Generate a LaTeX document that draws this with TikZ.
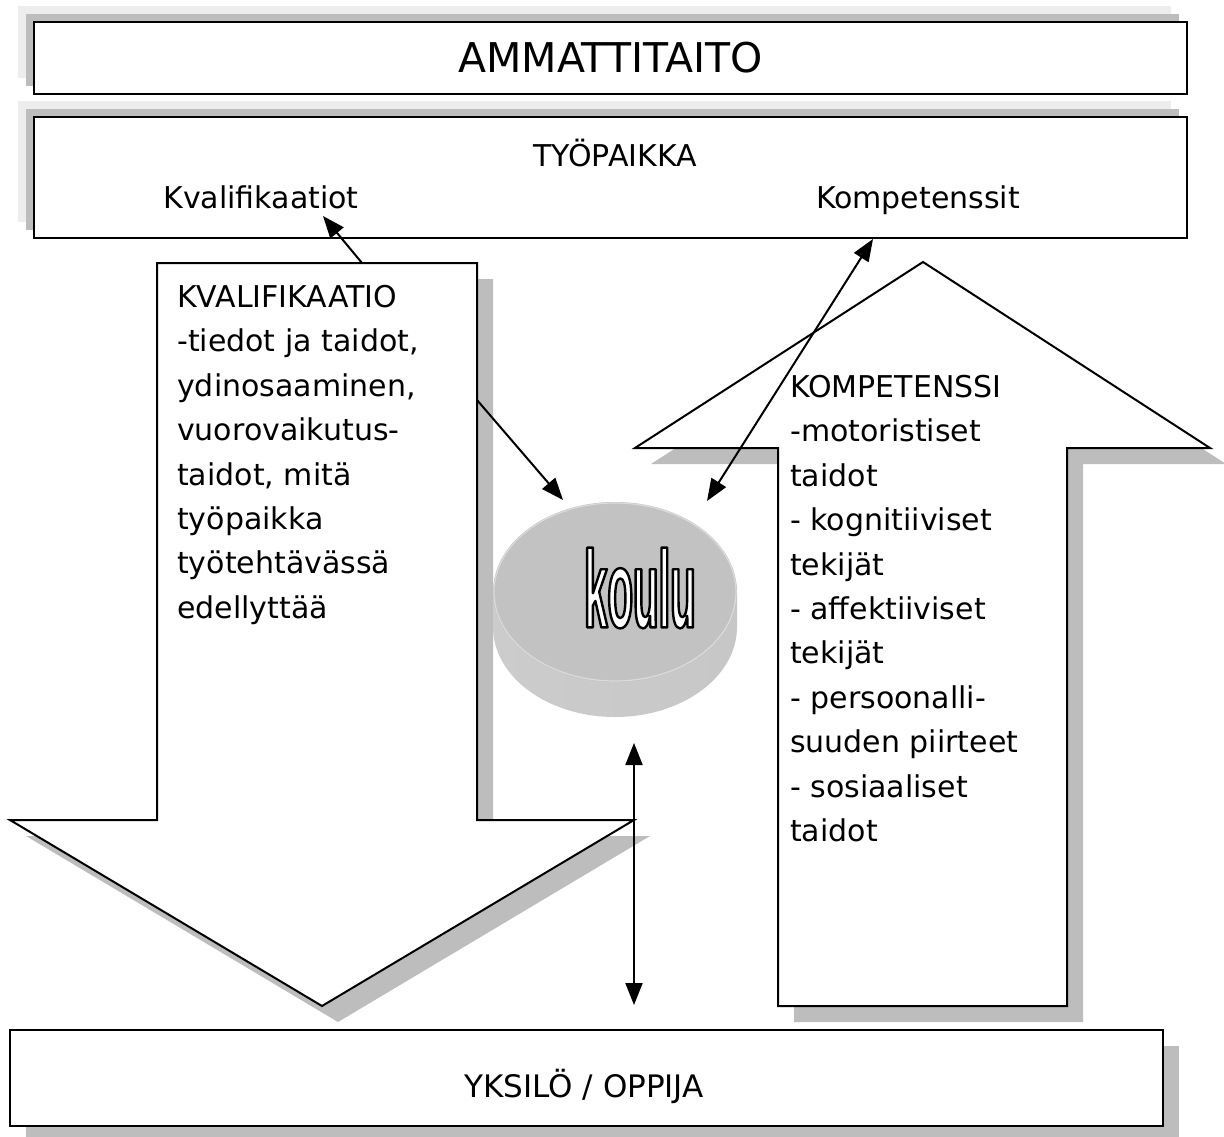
\documentclass[tikz,border=0pt]{standalone}
\usepackage{fontspec}
\setmainfont{DejaVu Sans}
\newfontfamily\kfont{Liberation Sans}[FakeStretch=0.38]
\usetikzlibrary{arrows.meta}
\begin{document}
\begin{tikzpicture}[x=1pt,y=-1pt,
  boxline/.style={draw=black,line width=2.6pt,fill=white,rectangle,inner sep=0pt},
  bigarrow/.style={draw=black,line width=2pt,fill=white,line join=miter},
  darkshadow/.style={fill=black!26},
  lightshadow/.style={fill=black!7},
  txt/.style={inner sep=0pt,font=\fontsize{30}{44.4}\selectfont},
  conn/.style={line width=2pt,-{Triangle[length=22pt,width=17pt]}},
  conntwo/.style={line width=2pt,{Triangle[length=22pt,width=17pt]}-{Triangle[length=22pt,width=17pt]}}]
\useasboundingbox (0,0) rectangle (1224,1137);
\fill[white] (0,0) rectangle (1224,1137);
% shadows of top boxes
\fill[lightshadow] (18,6) rectangle (1171,78);
\fill[darkshadow] (26,14) rectangle (1179,86);
\fill[lightshadow] (18,101) rectangle (1171,222);
\fill[darkshadow] (26,109) rectangle (1179,230);
% top boxes
\node[boxline,minimum width=1153pt,minimum height=72pt,font=\fontsize{41}{44}\selectfont] (amm) at (610.5,58) {AMMATTITAITO};
\node[boxline,minimum width=1153pt,minimum height=121pt] (tyo) at (610.5,177.5) {};
\node[txt,anchor=base] (tyot) at (615,167) {TYÖPAIKKA};
\node[txt,anchor=base] (kval) at (261,208) {Kvalifikaatiot};
\node[txt,anchor=base] (komp) at (918,208) {Kompetenssit};
% shadows of arrows and bottom box
\fill[darkshadow,shift={(16,16)}] (157,263) -- (477,263) -- (477,820) -- (634,820) -- (322,1006) -- (10,820) -- (157,820) -- cycle;
\fill[darkshadow,shift={(16,16)}] (923,262) -- (1210,448) -- (1067,448) -- (1067,1006) -- (778,1006) -- (778,448) -- (635,448) -- cycle;
\fill[darkshadow] (26,1046) rectangle (1179,1142);
% big arrows
\draw[bigarrow] (157,263) -- (477,263) -- (477,820) -- (634,820) -- (322,1006) -- (10,820) -- (157,820) -- cycle;
\draw[bigarrow] (923,262) -- (1210,448) -- (1067,448) -- (1067,1006) -- (778,1006) -- (778,448) -- (635,448) -- cycle;
% bottom box
\node[boxline,minimum width=1153pt,minimum height=96pt] (yks) at (586.5,1078) {};
\node[txt,anchor=base,font=\fontsize{31}{44}\selectfont] (ykst) at (584,1097) {YKSILÖ / OPPIJA};
% arrow texts
\node[txt,anchor=north west,align=left] (kvtext) at (177,285) {KVALIFIKAATIO\\-tiedot ja taidot,\\ydinosaaminen,\\vuorovaikutus-\\taidot, mitä\\työpaikka\\työtehtävässä\\edellyttää};
\node[txt,anchor=north west,align=left] (kotext) at (790,375) {KOMPETENSSI\\-motoristiset\\taidot\\- kognitiiviset\\tekijät\\- affektiiviset\\tekijät\\- persoonalli-\\suuden piirteet\\- sosiaaliset\\taidot};
% koulu disc
\shade[left color=black!20,middle color=black!42,right color=black!22] (615,627) ellipse [x radius=122,y radius=90];
\shade[left color=black!20,middle color=black!42,right color=black!22] (493,592) rectangle (737,627);
\fill[black!24] (615,592) ellipse [x radius=122,y radius=90];
\draw[black!14,line width=1.2pt] (615,592) ellipse [x radius=121,y radius=89];
\node[inner sep=0pt,font=\kfont\bfseries\fontsize{110}{110}\selectfont] (koulu) at (640,588)
  {\special{pdf:literal direct q 2 Tr 2.4 w 1 j 0 G 1 g}koulu\special{pdf:literal direct Q}};
% connectors
\coordinate (c1s) at (362,263);
\coordinate (c1e) at (323,216);
\coordinate (c2s) at (477,400);
\coordinate (c2e) at (563,500);
\coordinate (c3a) at (707,501);
\coordinate (c3b) at (873,239);
\coordinate (c4a) at (634,743);
\coordinate (c4b) at (634,1005);
\draw[conn] (c1s) -- (c1e);
\draw[conn] (c2s) -- (c2e);
\draw[conntwo] (c3a) -- (c3b);
\draw[conntwo] (c4a) -- (c4b);
\end{tikzpicture}
\end{document}
